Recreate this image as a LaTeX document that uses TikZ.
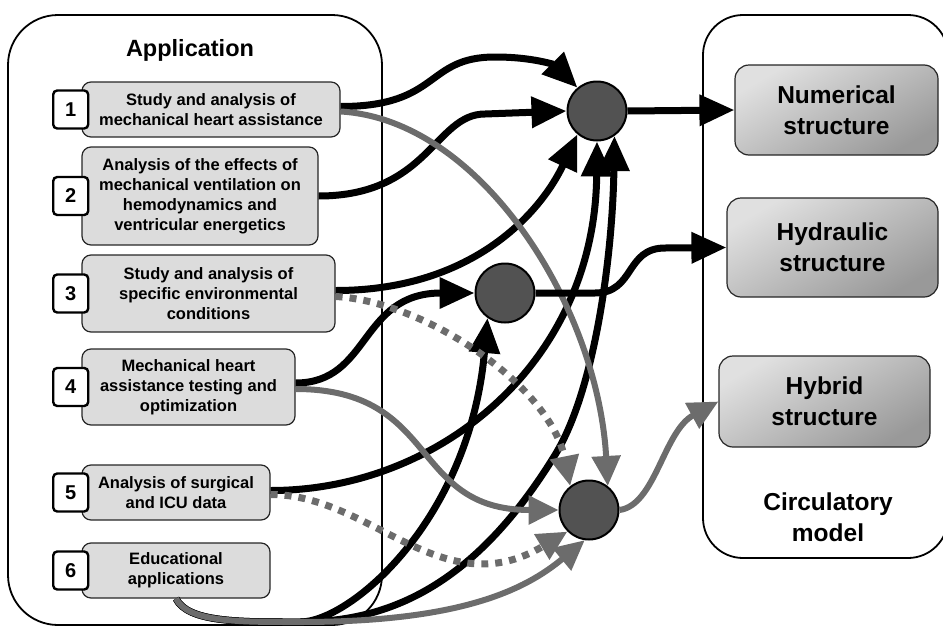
\documentclass[tikz,border=0pt]{standalone}
\usepackage{fontspec}
\setmainfont{Liberation Sans}
\usetikzlibrary{arrows.meta,positioning}

\definecolor{linegray}{RGB}{108,108,108}
\definecolor{hubgray}{RGB}{82,82,82}
\definecolor{boxgray}{RGB}{220,220,220}

\begin{document}
\begin{tikzpicture}[x=1pt, y=-1pt,
	frame/.style={draw, line width=1.8pt, inner sep=0pt},
	app box/.style={draw=black!85, line width=1.2pt, fill=boxgray, rounded corners=9pt, align=center, inner sep=0pt, font=\fontsize{16.5}{20}\selectfont\bfseries},
	num box/.style={draw, fill=white, line width=2.4pt, rounded corners=4pt, minimum width=35pt, minimum height=38pt, inner sep=0pt, font=\fontsize{20}{20}\selectfont\bfseries},
	model box/.style={draw=black!85, line width=1.2pt, rounded corners=14pt, top color=black!12, bottom color=black!40, shading angle=30, align=center, inner sep=0pt, font=\fontsize{24.5}{31}\selectfont\bfseries},
	hub/.style={circle, draw, line width=2pt, fill=hubgray, minimum size=59pt, inner sep=0pt},
	black link/.style={line width=7pt, -{Triangle[length=35pt,width=30pt]}},
	gray link/.style={line width=6pt, draw=linegray, -{Triangle[length=30pt,width=28pt]}},
	dot link/.style={gray link, line width=7pt, dash pattern=on 7pt off 7pt}]

	\useasboundingbox (0,0) rectangle (943,627);

	% containers
	\node[frame, rounded corners=50pt, minimum width=374pt, minimum height=610pt] (app) at (195,320) {};
	\node[font=\fontsize{23.5}{28}\selectfont\bfseries] (apptitle) at (190,50) {Application};
	\node[frame, rounded corners=40pt, minimum width=245pt, minimum height=543pt] (model) at (825.5,286.5) {};
	\node[align=center, font=\fontsize{24.5}{31}\selectfont\bfseries] (modeltitle) at (828,517) {Circulatory\\model};

	% applications
	\node[app box, minimum width=258pt, minimum height=55pt] (a1) at (211,109.5) {Study and analysis of\\mechanical heart assistance};
	\node[app box, minimum width=236pt, minimum height=98pt] (a2) at (200,196) {Analysis of the effects of\\mechanical ventilation on\\hemodynamics and\\ventricular energetics};
	\node[app box, minimum width=253pt, minimum height=77pt] (a3) at (208.5,293.5) {Study and analysis of\\specific environmental\\conditions};
	\node[app box, minimum width=213pt, minimum height=76pt] (a4) at (188.5,387) {Mechanical heart\\assistance testing and\\optimization};
	\node[app box, minimum width=188pt, minimum height=55pt] (a5) at (176,492.5) {Analysis of surgical\\and ICU data};
	\node[app box, minimum width=188pt, minimum height=55pt] (a6) at (176,570.5) {Educational\\applications};

	\node[num box, left=-8pt of a1.west] (n1) {1};
	\node[num box, left=-8pt of a2.west] (n2) {2};
	\node[num box, left=-8pt of a3.west] (n3) {3};
	\node[num box, left=-8pt of a4.west] (n4) {4};
	\node[num box, left=-8pt of a5.west] (n5) {5};
	\node[num box, left=-8pt of a6.west] (n6) {6};

	% model structures
	\node[model box, minimum width=203pt, minimum height=90pt] (num) at (836.5,110) {Numerical\\structure};
	\node[model box, minimum width=211pt, minimum height=99pt] (hyd) at (832.5,247.5) {Hydraulic\\structure};
	\node[model box, minimum width=211pt, minimum height=91pt] (hyb) at (824.5,401.5) {Hybrid\\structure};

	% hubs
	\node[hub] (h1) at (597,111) {};
	\node[hub] (h2) at (505,293) {};
	\node[hub] (h3) at (589,510) {};

	% black links
	\draw[black link] ([yshift=3pt]a1.east) .. controls +(100,0) and +(-70,0) .. (495,57) .. controls +(40,0) and +(-22,-22) .. (h1.130);
	\draw[black link] (a2.east) .. controls +(110,0) and +(-50,0) .. (485,114) -- (h1.west);
	\draw[black link] ([yshift=3pt]a3.east) .. controls +(140,0) and +(-35,75) .. (h1.230);
	\draw[black link] ([yshift=4pt]a4.east) .. controls +(75,0) and +(-115,0) .. (h2.west);
	\draw[black link] ([yshift=2pt]a5.east) .. controls +(170,0) and +(-2,220) .. (h1.south);
	\draw[black link] (a6.south) .. controls +(12,24) and +(-60,0) .. (300,622) .. controls +(50,0) and +(-18,203) .. (h2.235);
	\draw[black link] (a6.south) .. controls +(12,24) and +(-60,0) .. (300,622) .. controls +(90,0) and +(-80,130) .. (555,455) .. controls +(40,-65) and +(-2,120) .. (h1.305);

	% gray links
	\draw[gray link] ([yshift=-2pt]a1.east) .. controls +(140,8) and +(-10,-180) .. (h3.52);
	\draw[gray link] ([yshift=-2pt]a4.east) .. controls +(145,0) and +(-150,0) .. (h3.west);
	\draw[gray link] (a6.south) .. controls +(12,24) and +(-60,0) .. (300,622) .. controls +(160,0) and +(-60,50) .. (h3.262);

	% dotted links
	\draw[dot link] ([yshift=-3pt]a3.east) .. controls +(90,5) and +(-20,-100) .. (h3.128);
	\draw[dot link] ([yshift=-2pt]a5.east) .. controls +(100,0) and +(-125,75) .. (h3.225);

	% hubs to model
	\draw[black link] (h1.east) -- (num.west);
	\draw[black link] (h2.east) -- (595,293) .. controls +(40,0) and +(-40,0) .. (665,248) -- (hyd.west);
	\draw[gray link] (h3.east) .. controls +(36,-5) and +(-55,30) .. (hyb.west);

\end{tikzpicture}
\end{document}
